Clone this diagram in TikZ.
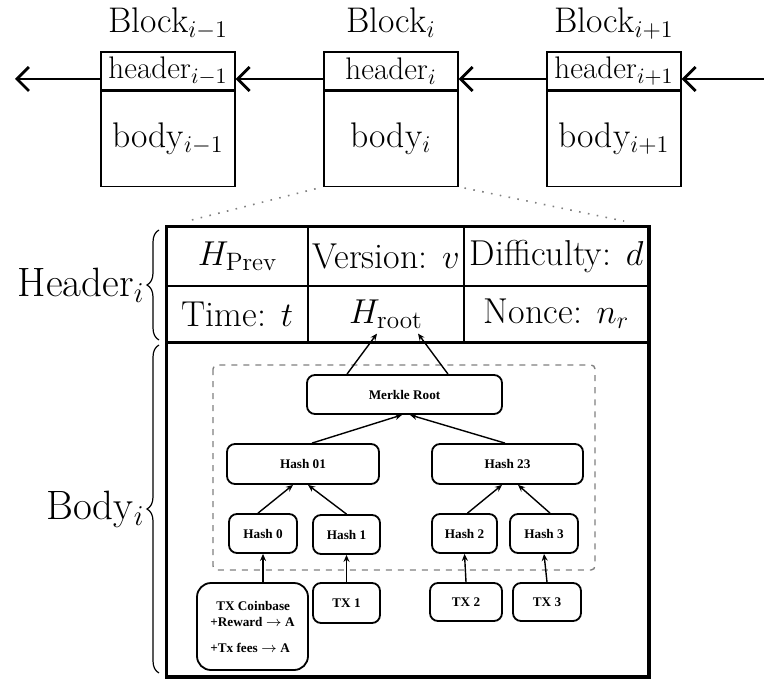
\documentclass[tikz,border=0pt]{standalone}
\usepackage{amsmath,amssymb}
\usepackage{fontspec}
\newfontfamily\treefont{Liberation Serif}
\usetikzlibrary{positioning,arrows.meta,decorations.pathreplacing,calc}

\begin{document}
\begin{tikzpicture}[
    x=0.5pt, y=-0.5pt,
    font=\fontsize{17.8}{21}\selectfont,
    % chain of blocks on top
    blkhead/.style={draw, line width=0.6pt, minimum width=67pt, minimum height=19pt, inner sep=0pt,
      font=\fontsize{15.6}{18}\selectfont},
    blkbody/.style={draw, line width=0.6pt, minimum width=67pt, minimum height=47.5pt, inner sep=0pt},
    blklabel/.style={anchor=base, inner sep=0pt},
    chain/.style={line width=1.4pt, -{Straight Barb[length=6pt, width=12pt]}},
    zoomline/.style={gray, line width=0.8pt, dash pattern=on 0.8pt off 3.7pt},
    % header table of block i
    cell/.style={draw, line width=0.6pt, inner sep=0pt, font=\fontsize{18}{21}\selectfont},
    sidebrace/.style={decorate, decoration={brace, amplitude=6pt}, line width=0.6pt},
    sidelabel/.style={left=7pt, inner sep=0pt, font=\fontsize{20.5}{24}\selectfont},
    % merkle tree
    hashbox/.style={draw, rounded corners=4pt, line width=0.9pt, inner sep=0pt,
      font=\treefont\fontsize{6.6}{8}\selectfont\bfseries},
    up/.style={line width=0.7pt, -{Stealth[length=3.5pt, width=3pt]}}
  ]
    \useasboundingbox (0,0) rectangle (764,679);

    %--- Blocks i-1, i, i+1 ---
    \node[blkhead] (hprev) at (168,71) {header$_{i-1}$};
    \node[blkbody, below=0pt of hprev] (bprev) {body$_{i-1}$};
    \node[blkhead] (hcur) at (391,71) {header$_i$};
    \node[blkbody, below=0pt of hcur] (bcur) {body$_i$};
    \node[blkhead] (hnext) at (614,71) {header$_{i+1}$};
    \node[blkbody, below=0pt of hnext] (bnext) {body$_{i+1}$};

    \node[blklabel, above=9.5pt of hprev.north, anchor=base] (lprev) {Block$_{i-1}$};
    \node[blklabel, above=9.5pt of hcur.north, anchor=base] (lcur) {Block$_i$};
    \node[blklabel, above=9.5pt of hnext.north, anchor=base] (lnext) {Block$_{i+1}$};

    % each header points back to the one before it
    \coordinate (chainR) at (764,79);
    \coordinate (chainL) at (15,79);
    \draw[chain] (chainR) -- ([yshift=-4pt]hnext.east);
    \draw[chain] ([yshift=-4pt]hnext.west) -- ([yshift=-4pt]hcur.east);
    \draw[chain] ([yshift=-4pt]hcur.west) -- ([yshift=-4pt]hprev.east);
    \draw[chain] ([yshift=-4pt]hprev.west) -- (chainL);

    %--- Header table: two rows, three columns ---
    \node[cell, minimum width=70.5pt, minimum height=29.5pt] (cPrev) at (237.5,256.5) {$H_{\mathrm{Prev}}$};
    \node[cell, minimum width=78pt, minimum height=29.5pt] (cVer) at (386,256.5) {Version: $v$};
    \node[cell, minimum width=92.5pt, minimum height=29.5pt] (cDiff) at (556.5,256.5) {Difficulty: $d$};
    \node[cell, minimum width=70.5pt, minimum height=28pt] (cTime) at (237.5,314) {Time: $t$};
    \node[cell, minimum width=78pt, minimum height=28pt] (cRoot) at (386,314) {$H_{\text{root}}$};
    \node[cell, minimum width=92.5pt, minimum height=28pt] (cNonce) at (556.5,314) {Nonce: $n_r$};

    % heavy frame round header and body
    \coordinate (frameSE) at (649,677);
    \draw[line width=1.8pt] (cPrev.north west) rectangle (frameSE);
    \draw[line width=1.8pt] (cTime.south west) -- (cNonce.south east);

    % zoom lines from block i down to the table
    \draw[zoomline, shorten <=4pt, shorten >=10pt] (bcur.south west) -- (cPrev.north west);
    \draw[zoomline, shorten <=3pt, shorten >=13pt] (bcur.south east) -- (cDiff.north east);

    % braces on the left
    \coordinate (hdrBot) at (159,340);
    \coordinate (hdrTop) at (159,230);
    \coordinate (bodyBot) at (159,673);
    \coordinate (bodyTop) at (159,345);
    \draw[sidebrace] (hdrBot) -- (hdrTop) node[midway, sidelabel] (lhdr) {Header$_i$};
    \draw[sidebrace] (bodyBot) -- (bodyTop) node[midway, sidelabel] (lbody) {Body$_i$};

    %--- Merkle tree in the body ---
    \draw[gray, line width=0.7pt, dashed, rounded corners=2pt] (213,365) rectangle (595,570);

    \node[hashbox, minimum width=97.5pt, minimum height=19.5pt] (merkle) at (404.5,394.5) {Merkle Root};
    \node[hashbox, minimum width=76pt, minimum height=20pt] (h01) at (303,464) {Hash 01};
    \node[hashbox, minimum width=75.5pt, minimum height=20pt] (h23) at (507.5,464) {Hash 23};
    \node[hashbox, minimum width=34pt, minimum height=19.5pt] (h0) at (263,533.5) {Hash 0};
    \node[hashbox, minimum width=33.5pt, minimum height=19.5pt] (h1) at (346.5,534.5) {Hash 1};
    \node[hashbox, minimum width=32.5pt, minimum height=19.5pt] (h2) at (464.5,533.5) {Hash 2};
    \node[hashbox, minimum width=34pt, minimum height=19.5pt] (h3) at (544,533.5) {Hash 3};

    \node[hashbox, rounded corners=7pt, minimum width=55.5pt, minimum height=43.5pt, align=left] (coinbase) at (252.5,626.5)
      {\hspace*{3pt}TX Coinbase\\+Reward $\rightarrow$ A\\[5pt]+Tx fees $\rightarrow$ A};
    \node[hashbox, minimum width=33.5pt, minimum height=20pt] (tx1) at (346.5,603) {TX 1};
    \node[hashbox, minimum width=36pt, minimum height=19pt] (tx2) at (466,602) {TX 2};
    \node[hashbox, minimum width=34pt, minimum height=19pt] (tx3) at (547,602) {TX 3};

    % transactions up to leaf hashes
    \draw[up] (coinbase.north -| h0.south) -- (h0.south);
    \draw[up] (tx1.north) -- (h1.south);
    \draw[up] (tx2.north) -- (h2.south);
    \draw[up] (tx3.north) -- (h3.south);

    % leaves up to the inner hashes
    \draw[up] ([xshift=-2.5pt]h0.north) -- ([xshift=-5pt]h01.south);
    \draw[up] (h1.north) -- ([xshift=2.5pt]h01.south);
    \draw[up] ([xshift=1.5pt]h2.north) -- ([xshift=-2.75pt]h23.south);
    \draw[up] ([xshift=3pt]h3.north) -- ([xshift=5.25pt]h23.south);
    \draw[up] ([xshift=4.5pt]h01.north) -- ([xshift=-1.25pt]merkle.south);
    \draw[up] ([xshift=-1.25pt]h23.north) -- ([xshift=2.75pt]merkle.south);

    % root goes into the header field
    \draw[up] ([xshift=-28.75pt]merkle.north) -- ([xshift=-4.5pt, yshift=4.5pt]cRoot.south);
    \draw[up] ([xshift=21.75pt]merkle.north) -- ([xshift=16pt, yshift=4.5pt]cRoot.south);
  \end{tikzpicture}
\end{document}
